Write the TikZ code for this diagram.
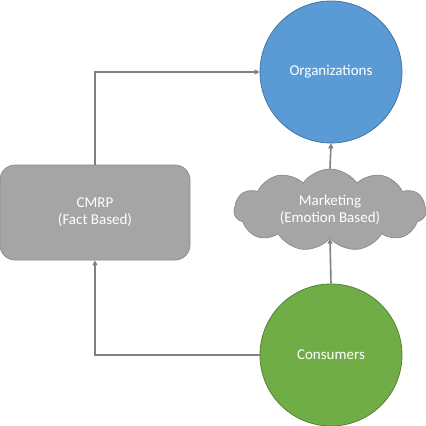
\documentclass[tikz,border=0pt]{standalone}
\usepackage{fontspec}
\setmainfont{Carlito}
\usetikzlibrary{arrows.meta,shapes.symbols,positioning}
\definecolor{orgblue}{HTML}{5B9BD5}
\definecolor{orgedge}{HTML}{41719C}
\definecolor{congreen}{HTML}{70AD47}
\definecolor{conedge}{HTML}{507E32}
\definecolor{boxgray}{HTML}{A5A5A5}
\definecolor{boxedge}{HTML}{8C8C8C}
\definecolor{linkgray}{HTML}{808080}
\tikzset{every picture/.style={line width=0.75pt}}
\tikzset{
  ball/.style={circle,minimum size=142pt,inner sep=0pt,text=white,font=\fontsize{15}{18}\selectfont},
  factbox/.style={rectangle,rounded corners=15pt,fill=boxgray,draw=boxedge,minimum width=190pt,minimum height=95pt,text=white,align=center,font=\fontsize{15}{18}\selectfont},
  feelcloud/.style={cloud,cloud puffs=11,cloud puff arc=110,aspect=2.35,fill=boxgray,draw=boxedge,minimum width=192pt,minimum height=82pt,inner sep=0pt,text=white,align=center,font=\fontsize{15}{18}\selectfont},
  link/.style={draw=linkgray,line width=1.6pt,-{Triangle[length=5pt,width=5pt]}}
}

\begin{document}
\begin{tikzpicture}[x=1pt,y=-1pt]
    \useasboundingbox (0,0) rectangle (426,426);

    % === circles ===
    \node[ball,fill=orgblue,draw=orgedge] (org) at (331,72) {Organizations};
    \node[ball,fill=congreen,draw=conedge] (cons) at (331,355) {Consumers};

    % === left box and cloud ===
    \node[factbox] (cmrp) at (95,212.5) {CMRP\\[-1pt](Fact Based)};
    \node[feelcloud] (mkt) at (330,210) {Marketing\\[-1pt](Emotion Based)};

    % links
    \draw[link] (cmrp.north) |- (org.west);
    \draw[link] (cons.west) -| (cmrp.south);
    \draw[link] (mkt.north) -- (org.south);
    \draw[link] (cons.north) -- (mkt.south);
\end{tikzpicture}
\end{document}
